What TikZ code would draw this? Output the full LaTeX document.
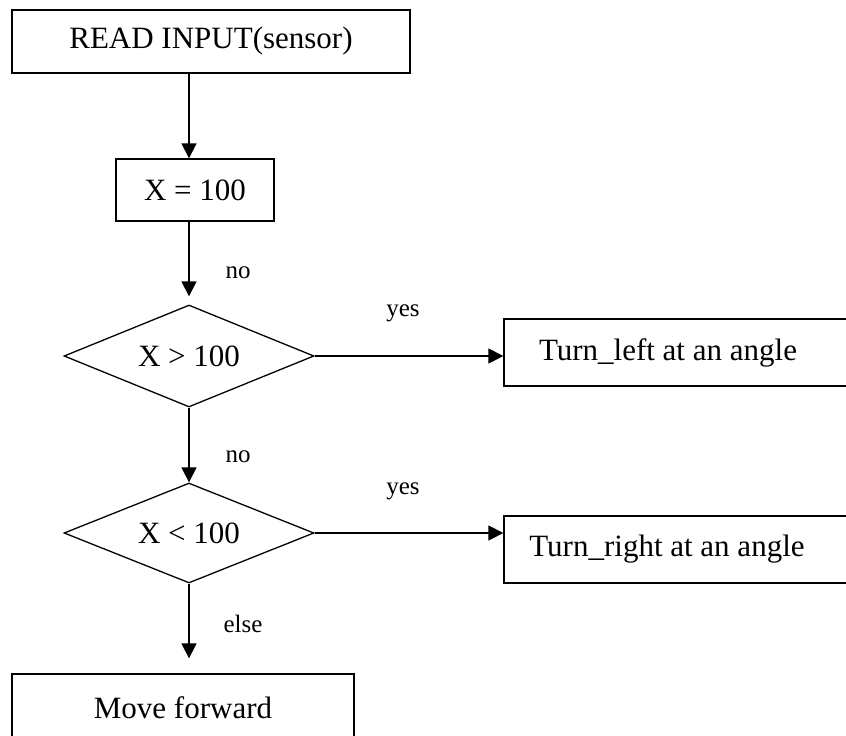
\documentclass[tikz,border=0pt]{standalone}
\usepackage{fontspec}
\setmainfont{Liberation Serif}
\usetikzlibrary{shapes.geometric,arrows.meta,calc}

\tikzset{
  x=1pt, y=1pt,
  flowline/.style={line width=1.3pt, draw=black},
  box/.style={draw=black, line width=1.3pt, rectangle, inner sep=0pt,
              font=\fontsize{31}{37}\selectfont},
  decision/.style={draw=black, line width=1.3pt, diamond, aspect=2.45,
                   inner sep=0pt, font=\fontsize{31}{37}\selectfont},
  flowarrow/.style={flowline, -{Triangle[length=15pt,width=15pt]}},
  tag/.style={font=\fontsize{25}{30}\selectfont, inner sep=0pt},
  textshift/.style={execute at begin node={\hspace*{#1}}}
}

\begin{document}
\begin{tikzpicture}
  \useasboundingbox (0,0) rectangle (846,-736);

  % process boxes
  \node[box, minimum width=398pt, minimum height=63pt] (read) at (211,-41.5) {READ INPUT(sensor)};
  \node[box, minimum width=158pt, minimum height=62pt] (xeq) at (195,-190) {X = 100};

  % decisions
  \node[decision, minimum width=250pt, minimum height=102pt] (dgt) at (189,-356) {X > 100};
  \node[decision, minimum width=250pt, minimum height=100pt] (dlt) at (189,-533) {X < 100};

  % outcome boxes (they run off the right and bottom edges)
  \node[box, minimum width=348pt, minimum height=67pt, textshift=-20pt] (left) at (678,-352.5) {Turn\_left at an angle};
  \node[box, minimum width=348pt, minimum height=67pt, textshift=-22pt] (right) at (678,-549.5) {Turn\_right at an angle};
  \node[box, minimum width=342pt, minimum height=68pt] (move) at (183,-708) {Move forward};

  % connectors
  \draw[flowarrow] (read.south -| dgt.north) -- (xeq.north -| dgt.north);
  \draw[flowarrow, shorten >=8pt] (xeq.south -| dgt.north) -- (dgt.north);
  \draw[flowarrow] (dgt.south) -- (dlt.north);
  \draw[flowarrow, shorten >=15pt] (dlt.south) -- (move.north -| dlt.south);
  \draw[flowarrow] (dgt.east) -- (dgt.east -| left.west);
  \draw[flowarrow] (dlt.east) -- (dlt.east -| right.west);

  % branch labels
  \node[tag] (no1) at (238,-273) {no};
  \node[tag] (no2) at (238,-457) {no};
  \node[tag] (yes1) at (403,-313) {yes};
  \node[tag] (yes2) at (403,-491) {yes};
  \node[tag] (else) at (243,-624) {else};
\end{tikzpicture}
\end{document}
